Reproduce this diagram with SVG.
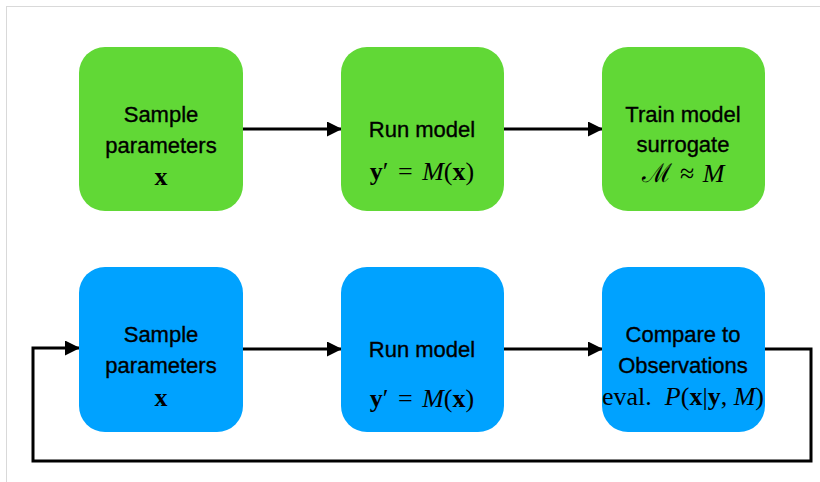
<svg xmlns="http://www.w3.org/2000/svg" width="820" height="482" viewBox="0 0 820 482">
<style>
.g{fill:#61D836}
.b{fill:#00A2FF}
.t{font-family:"Liberation Sans",Arial,sans-serif;font-size:22px;fill:#000;text-anchor:middle;stroke:#000;stroke-width:0.35px}
.m{font-family:"Liberation Serif","DejaVu Serif",serif;font-size:26px;fill:#000;text-anchor:middle}
.c{fill:none;stroke:#000;stroke-width:3}
</style>
<defs>
<marker id="ah" markerWidth="15" markerHeight="15" refX="14" refY="7.5" orient="auto" markerUnits="userSpaceOnUse">
<path d="M0,0 L15,7.5 L0,15 z" fill="#000"/>
</marker>
</defs>
<rect x="6.5" y="6.5" width="830" height="490" fill="#fff" stroke="#d9d9d9" stroke-width="1"/>
<g id="connectors">
<line class="c" x1="243" y1="129" x2="341" y2="129" marker-end="url(#ah)"/>
<line class="c" x1="504" y1="129" x2="602" y2="129" marker-end="url(#ah)"/>
<line class="c" x1="243" y1="349" x2="341" y2="349" marker-end="url(#ah)"/>
<line class="c" x1="504" y1="349" x2="602" y2="349" marker-end="url(#ah)"/>
<polyline class="c" points="765,349 811,349 811,461 33,461 33,348 79,348" marker-end="url(#ah)"/>
</g>
<g id="n1">
<rect class="g" x="79" y="47" width="164" height="164" rx="26"/>
<text class="t" x="161" y="122">Sample</text>
<text class="t" x="161" y="153">parameters</text>
<text class="m" x="161" y="185" font-weight="bold" font-size="28">x</text>
</g>
<g id="n2">
<rect class="g" x="341" y="47" width="163" height="164" rx="26"/>
<text class="t" x="422" y="137">Run model</text>
<text class="m" x="422" y="180" xml:space="preserve"><tspan font-weight="bold">y</tspan>′ <tspan dx="3">=</tspan> <tspan dx="3" font-style="italic">M</tspan>(<tspan font-weight="bold">x</tspan>)</text>
</g>
<g id="n3">
<rect class="g" x="602" y="47" width="163" height="164" rx="26"/>
<text class="t" x="683" y="122">Train model</text>
<text class="t" x="683" y="152">surrogate</text>
<text class="m" x="683" y="182" font-size="32" xml:space="preserve">ℳ <tspan dx="2">≈</tspan> <tspan dx="2" font-style="italic">M</tspan></text>
</g>
<g id="n4">
<rect class="b" x="79" y="267" width="164" height="165" rx="26"/>
<text class="t" x="161" y="342">Sample</text>
<text class="t" x="161" y="373">parameters</text>
<text class="m" x="161" y="406" font-weight="bold" font-size="28">x</text>
</g>
<g id="n5">
<rect class="b" x="341" y="267" width="163" height="165" rx="26"/>
<text class="t" x="422" y="357">Run model</text>
<text class="m" x="422" y="407" xml:space="preserve"><tspan font-weight="bold">y</tspan>′ <tspan dx="3">=</tspan> <tspan dx="3" font-style="italic">M</tspan>(<tspan font-weight="bold">x</tspan>)</text>
</g>
<g id="n6">
<rect class="b" x="602" y="267" width="163" height="165" rx="26"/>
<text class="t" x="683" y="342">Compare to</text>
<text class="t" x="683" y="373">Observations</text>
<text class="m" x="683" y="405" font-size="22" xml:space="preserve">eval.  <tspan font-style="italic">P</tspan>(<tspan font-weight="bold">x</tspan>|<tspan font-weight="bold">y</tspan>, <tspan font-style="italic">M</tspan>)</text>
</g>
</svg>
